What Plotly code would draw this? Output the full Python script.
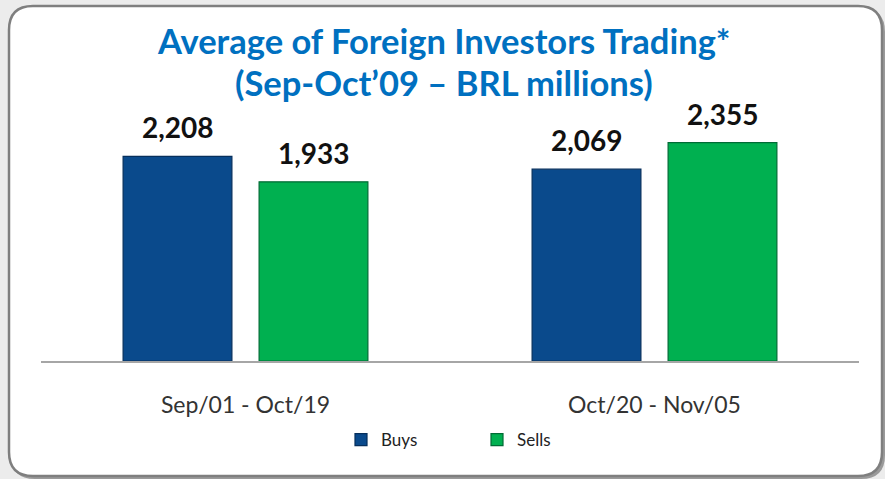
import plotly.graph_objects as go

categories = ["Sep/01 - Oct/19", "Oct/20 - Nov/05"]
buys = [2208, 2069]
sells = [1933, 2355]
buy_labels = ["2,208", "2,069"]
sell_labels = ["1,933", "2,355"]
series_names = ["Buys", "Sells"]
title_line1 = "Average of Foreign Investors Trading*"
title_line2 = "(Sep-Oct\u201909 \u2013 BRL millions)"

W, H = 885, 479
L, R, T, B = 41, 26, 100, 118
PW = W - L - R
PH = H - T - B


def px(x):
    return (x - L) / PW


def py(y):
    return (H - B - y) / PH


def rrect(x0, y0, x1, y1, r):
    pts = []
    pts.append(f"M {px(x0 + r)} {py(y0)}")
    pts.append(f"L {px(x1 - r)} {py(y0)}")
    pts.append(f"Q {px(x1)} {py(y0)} {px(x1)} {py(y0 + r)}")
    pts.append(f"L {px(x1)} {py(y1 - r)}")
    pts.append(f"Q {px(x1)} {py(y1)} {px(x1 - r)} {py(y1)}")
    pts.append(f"L {px(x0 + r)} {py(y1)}")
    pts.append(f"Q {px(x0)} {py(y1)} {px(x0)} {py(y1 - r)}")
    pts.append(f"L {px(x0)} {py(y0 + r)}")
    pts.append(f"Q {px(x0)} {py(y0)} {px(x0 + r)} {py(y0)}")
    pts.append("Z")
    return " ".join(pts)


FONT = "Lato, 'Open Sans', sans-serif"

fig = go.Figure()
fig.add_trace(go.Bar(
    x=categories, y=buys, name=series_names[0],
    marker=dict(color="#0a4a8c", line=dict(color="#062f5c", width=1.2)),
))
fig.add_trace(go.Bar(
    x=categories, y=sells, name=series_names[1],
    marker=dict(color="#00b050", line=dict(color="#006b35", width=1.2)),
))

annotations = []
for i, c in enumerate(categories):
    annotations.append(dict(x=c, y=buys[i], xref="x", yref="y", text=buy_labels[i],
                            showarrow=False, xshift=-68, yshift=10, yanchor="bottom",
                            font=dict(family=FONT, size=28, color="#111111", weight="bold")))
    annotations.append(dict(x=c, y=sells[i], xref="x", yref="y", text=sell_labels[i],
                            showarrow=False, xshift=68, yshift=10, yanchor="bottom",
                            font=dict(family=FONT, size=28, color="#111111", weight="bold")))

annotations.append(dict(x=px(444), y=py(40), xref="paper", yref="paper", text=title_line1,
                        showarrow=False, xanchor="center", yanchor="middle",
                        font=dict(family=FONT, size=34.5, color="#0070c0", weight="bold")))
annotations.append(dict(x=px(444), y=py(82), xref="paper", yref="paper", text=title_line2,
                        showarrow=False, xanchor="center", yanchor="middle",
                        font=dict(family=FONT, size=34.5, color="#0070c0", weight="bold")))

shapes = [
    dict(type="path", path=rrect(11, 8, 885, 479, 24), xref="paper", yref="paper",
         fillcolor="#9a9a9a", line=dict(width=0), layer="below"),
    dict(type="path", path=rrect(9, 6, 882, 476, 24), xref="paper", yref="paper",
         fillcolor="white", line=dict(color="#7f7f7f", width=2.5), layer="below"),
]

fig.update_layout(
    width=W, height=H,
    margin=dict(l=L, r=R, t=T, b=B),
    paper_bgcolor="#ececec",
    plot_bgcolor="rgba(0,0,0,0)",
    barmode="group",
    bargap=0.335,
    bargroupgap=0.2,
    showlegend=True,
    legend=dict(orientation="h", x=px(477), y=py(440), xanchor="center", yanchor="middle",
                font=dict(family=FONT, size=17, color="#222222"),
                bgcolor="rgba(0,0,0,0)", entrywidth=91, itemwidth=30),
    annotations=annotations,
    shapes=shapes,
    xaxis=dict(showline=True, linecolor="#a6a6a6", linewidth=2, showgrid=False,
               ticks="outside", ticklen=22, tickcolor="rgba(0,0,0,0)",
               tickfont=dict(family=FONT, size=23, color="#333333")),
    yaxis=dict(range=[0, PH / 0.0927], visible=False, showgrid=False, zeroline=False),
    font=dict(family=FONT),
)

fig.write_html("out.html", config={"displayModeBar": False},
               post_script="document.body.style.margin='0';document.body.style.background='#ececec';")
